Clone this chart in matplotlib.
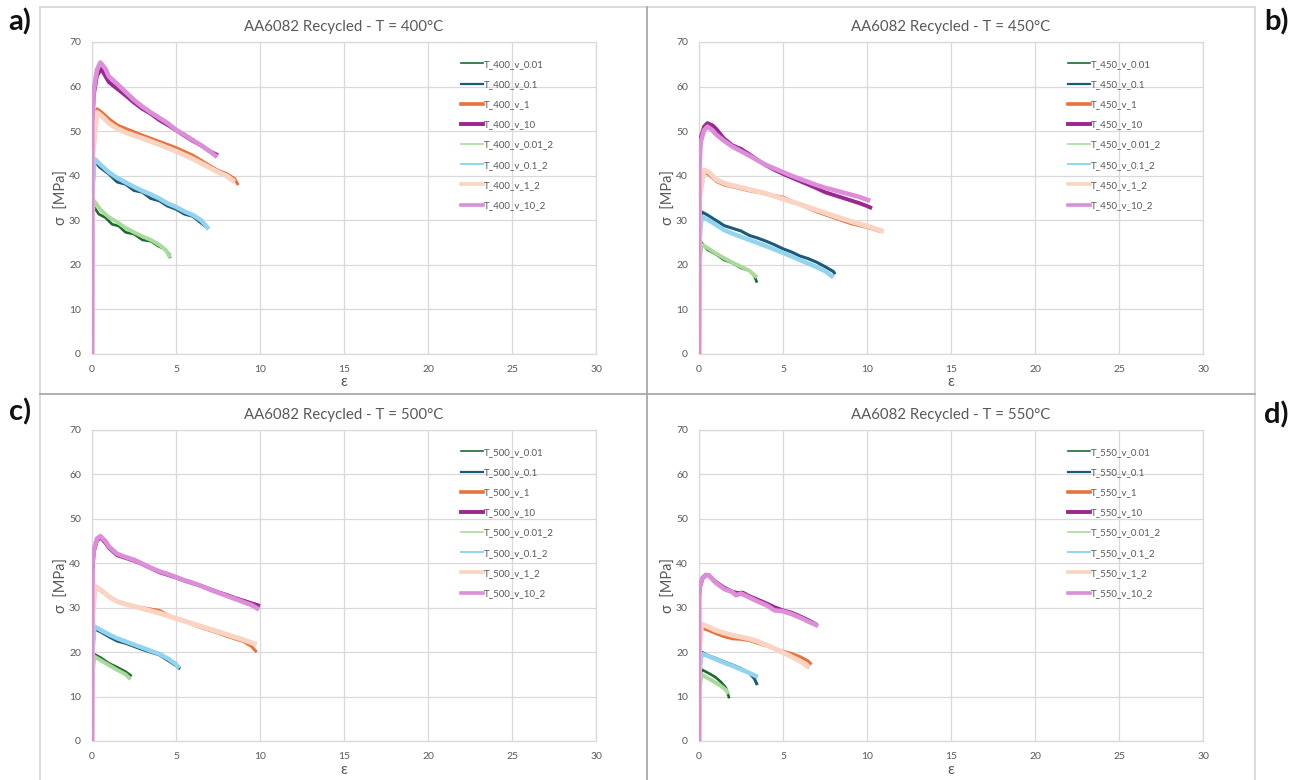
import matplotlib
matplotlib.use("Agg")
import matplotlib.pyplot as plt
from matplotlib.lines import Line2D

plt.rcParams['font.family'] = ['Lato', 'DejaVu Sans']

# ---------------- data (strain, stress) ----------------
temps = [400, 450, 500, 550]
rates = ["0.01", "0.1", "1", "10", "0.01_2", "0.1_2", "1_2", "10_2"]

# T = 400 °C
e400_001 = [0, 0.03, 0.12, 0.4, 0.8, 1.2, 1.6, 2.0, 2.5, 3.0, 3.5, 4.0, 4.3, 4.6, 4.65]
s400_001 = [0, 28, 33.0, 31.4, 30.6, 29.1, 28.7, 27.3, 26.9, 25.6, 25.3, 24.1, 23.6, 22.4, 21.5]
e400_01 = [0, 0.03, 0.15, 0.5, 1.0, 1.5, 2.0, 2.5, 3.0, 3.5, 4.0, 4.5, 5.0, 5.5, 6.0, 6.5, 6.8]
s400_01 = [0, 35, 43.2, 41.8, 40.4, 38.6, 38.1, 36.7, 36.3, 34.9, 34.4, 33.2, 32.5, 31.4, 30.9, 29.4, 28.5]
e400_1 = [0, 0.03, 0.3, 0.6, 1.0, 1.5, 2.0, 3.0, 4.0, 5.0, 6.0, 7.0, 7.5, 8.0, 8.5, 8.7]
s400_1 = [0, 45, 55.0, 54.2, 52.8, 51.4, 50.6, 49.1, 47.7, 46.3, 44.6, 42.3, 41.2, 40.5, 39.3, 37.9]
e400_10 = [0, 0.02, 0.1, 0.3, 0.55, 0.8, 1.0, 1.5, 2.0, 2.5, 3.0, 3.5, 4.0, 4.5, 5.0, 5.5, 6.0, 6.5, 7.0, 7.5]
s400_10 = [0, 50, 58, 62.5, 64.0, 62.3, 61.0, 59.5, 58.0, 56.4, 55.0, 53.9, 52.5, 51.4, 50.2, 49.0, 47.8, 46.8, 45.5, 44.6]
e400_001b = [0, 0.03, 0.1, 0.5, 1.0, 1.5, 2.0, 2.5, 3.0, 3.5, 4.0, 4.4, 4.65]
s400_001b = [0, 29, 34.5, 32.4, 30.7, 29.6, 28.3, 27.3, 26.4, 25.6, 24.5, 23.3, 21.6]
e400_01b = [0, 0.03, 0.15, 0.5, 1.0, 1.5, 2.0, 2.5, 3.0, 3.5, 4.0, 4.5, 5.0, 5.5, 6.0, 6.5, 6.95]
s400_01b = [0, 36, 43.8, 42.5, 40.8, 39.5, 38.5, 37.5, 36.6, 35.8, 34.9, 33.8, 33.0, 32.0, 31.2, 30.0, 28.0]
e400_1b = [0, 0.03, 0.3, 0.6, 1.0, 1.5, 2.0, 3.0, 4.0, 5.0, 6.0, 7.0, 7.5, 8.0, 8.5]
s400_1b = [0, 44, 54.2, 53.3, 51.8, 50.6, 49.7, 48.4, 47.0, 45.5, 43.8, 41.8, 40.8, 40.0, 38.6]
e400_10b = [0, 0.02, 0.1, 0.3, 0.5, 0.8, 1.0, 1.5, 2.0, 2.5, 3.0, 3.5, 4.0, 4.5, 5.0, 5.5, 6.0, 6.5, 7.0, 7.45]
s400_10b = [0, 52, 59, 63.8, 65.4, 64.0, 62.3, 60.6, 58.8, 57.0, 55.5, 54.2, 53.0, 51.8, 50.3, 49.2, 48.0, 46.8, 45.5, 44.2]

# T = 450 °C
e450_001 = [0, 0.03, 0.15, 0.5, 1.0, 1.5, 2.0, 2.5, 3.0, 3.3, 3.45]
s450_001 = [0, 20, 25.0, 23.4, 22.4, 21.1, 20.4, 19.3, 18.7, 17.5, 16.0]
e450_01 = [0, 0.03, 0.15, 0.5, 1.0, 1.5, 2.0, 2.5, 3.0, 3.5, 4.0, 4.5, 5.0, 5.5, 6.0, 6.5, 7.0, 7.5, 8.0, 8.1]
s450_01 = [0, 26, 31.9, 31.2, 30.0, 28.8, 28.2, 27.6, 26.6, 26.0, 25.3, 24.5, 23.6, 22.9, 22.0, 21.4, 20.6, 19.6, 18.5, 17.9]
e450_1 = [0, 0.03, 0.3, 0.6, 1.0, 1.5, 2.0, 3.0, 4.0, 5.0, 6.0, 7.0, 8.0, 9.0, 10.0, 10.8]
s450_1 = [0, 35, 40.9, 40.2, 38.8, 37.9, 37.5, 36.6, 35.9, 35.2, 33.5, 31.9, 30.6, 29.3, 28.4, 27.5]
e450_10 = [0, 0.02, 0.1, 0.3, 0.5, 0.8, 1.0, 1.5, 2.0, 2.5, 3.0, 3.5, 4.0, 4.5, 5.0, 5.5, 6.0, 6.5, 7.0, 7.5, 8.0, 8.5, 9.0, 9.5, 10.0, 10.3]
s450_10 = [0, 44, 48.5, 51.0, 51.8, 51.3, 50.6, 48.3, 46.8, 46.0, 44.8, 43.5, 42.3, 41.3, 40.4, 39.6, 38.8, 38.0, 37.2, 36.3, 35.7, 35.1, 34.5, 33.9, 33.2, 32.7]
e450_001b = [0, 0.03, 0.15, 0.5, 1.0, 1.5, 2.0, 2.5, 3.0, 3.45]
s450_001b = [0, 20, 24.6, 23.8, 22.6, 21.5, 20.5, 19.6, 18.7, 17.2]
e450_01b = [0, 0.03, 0.15, 0.5, 1.0, 1.5, 2.0, 3.0, 4.0, 5.0, 6.0, 7.0, 7.5, 8.0]
s450_01b = [0, 25, 30.8, 30.2, 29.0, 27.8, 27.0, 25.6, 24.2, 22.7, 21.1, 19.5, 18.6, 17.2]
e450_1b = [0, 0.03, 0.3, 0.6, 1.0, 1.5, 2.0, 3.0, 4.0, 5.0, 6.0, 7.0, 8.0, 9.0, 10.0, 11.0]
s450_1b = [0, 35, 41.3, 40.8, 39.2, 38.3, 37.8, 36.9, 36.0, 34.8, 33.6, 32.3, 31.0, 29.8, 28.7, 27.5]
e450_10b = [0, 0.02, 0.1, 0.3, 0.5, 0.8, 1.0, 1.5, 2.0, 2.5, 3.0, 3.5, 4.0, 4.5, 5.0, 5.5, 6.0, 6.5, 7.0, 7.5, 8.0, 8.5, 9.0, 9.5, 10.0, 10.2]
s450_10b = [0, 42, 47.5, 50.2, 51.0, 50.2, 49.3, 47.8, 46.5, 45.5, 44.5, 43.4, 42.4, 41.6, 40.8, 40.0, 39.3, 38.6, 37.9, 37.3, 36.8, 36.3, 35.8, 35.3, 34.6, 34.4]

# T = 500 °C
e500_001 = [0, 0.03, 0.15, 0.5, 1.0, 1.5, 2.0, 2.36]
s500_001 = [0, 15, 19.5, 18.8, 17.5, 16.6, 15.6, 14.6]
e500_01 = [0, 0.03, 0.15, 0.5, 1.0, 1.5, 2.0, 2.5, 3.0, 3.5, 4.0, 4.5, 5.0, 5.24]
s500_01 = [0, 20, 25.2, 24.6, 23.5, 22.5, 22.0, 21.3, 20.6, 20.0, 19.4, 18.2, 17.0, 16.2]
e500_1 = [0, 0.03, 0.2, 0.6, 1.0, 1.5, 2.0, 2.5, 3.0, 3.5, 4.0, 4.5, 5.0, 5.5, 6.0, 6.5, 7.0, 7.5, 8.0, 8.5, 9.0, 9.5, 9.8]
s500_1 = [0, 28, 34.5, 33.6, 32.6, 31.4, 30.7, 30.2, 30.0, 29.7, 29.4, 28.4, 27.5, 27.0, 26.2, 25.5, 24.9, 24.3, 23.6, 23.0, 22.4, 21.3, 20.0]
e500_10 = [0, 0.02, 0.1, 0.3, 0.5, 0.8, 1.0, 1.5, 2.0, 2.5, 3.0, 3.5, 4.0, 4.5, 5.0, 5.5, 6.0, 6.5, 7.0, 7.5, 8.0, 8.5, 9.0, 9.5, 10.0]
s500_10 = [0, 38, 42.5, 45.2, 45.8, 44.6, 43.5, 41.8, 41.2, 40.6, 39.8, 38.9, 38.0, 37.4, 36.8, 36.1, 35.5, 34.9, 34.2, 33.5, 32.9, 32.2, 31.6, 31.0, 30.4]
e500_001b = [0, 0.03, 0.15, 0.5, 1.0, 1.5, 2.0, 2.3]
s500_001b = [0, 15, 19.0, 18.2, 17.1, 16.0, 15.0, 13.9]
e500_01b = [0, 0.03, 0.15, 0.5, 1.0, 1.5, 2.0, 2.5, 3.0, 3.5, 4.0, 4.5, 5.0, 5.2]
s500_01b = [0, 20, 25.8, 25.0, 24.0, 23.1, 22.4, 21.7, 21.0, 20.3, 19.6, 18.6, 17.3, 16.4]
e500_1b = [0, 0.03, 0.2, 0.6, 1.0, 1.5, 2.0, 3.0, 4.0, 5.0, 6.0, 7.0, 8.0, 9.0, 9.8]
s500_1b = [0, 28, 34.8, 33.8, 32.5, 31.4, 30.8, 29.8, 28.8, 27.6, 26.4, 25.2, 24.0, 22.8, 21.7]
e500_10b = [0, 0.02, 0.1, 0.3, 0.5, 0.8, 1.0, 1.5, 2.0, 2.5, 3.0, 3.5, 4.0, 4.5, 5.0, 5.5, 6.0, 6.5, 7.0, 7.5, 8.0, 8.5, 9.0, 9.5, 9.95]
s500_10b = [0, 39, 43.0, 45.6, 46.1, 45.0, 43.8, 42.1, 41.4, 40.8, 39.9, 39.0, 38.2, 37.6, 36.9, 36.2, 35.6, 34.9, 34.1, 33.4, 32.7, 32.0, 31.3, 30.6, 29.6]

# T = 550 °C
e550_001 = [0, 0.02, 0.15, 0.4, 0.7, 1.0, 1.3, 1.6, 1.8]
s550_001 = [0, 12, 16.1, 15.6, 15.0, 14.3, 13.3, 12.0, 9.6]
e550_01 = [0, 0.02, 0.15, 0.5, 1.0, 1.5, 2.0, 2.5, 3.0, 3.3, 3.47]
s550_01 = [0, 15, 20.0, 19.3, 18.6, 17.8, 17.1, 16.3, 15.3, 14.0, 12.6]
e550_1 = [0, 0.02, 0.15, 0.5, 1.0, 1.5, 2.0, 2.5, 3.0, 3.5, 4.0, 4.5, 5.0, 5.5, 6.0, 6.5, 6.7]
s550_1 = [0, 20, 25.4, 25.0, 24.2, 23.5, 23.0, 22.9, 22.6, 22.0, 21.4, 20.8, 20.2, 19.7, 19.0, 18.0, 17.2]
e550_10 = [0, 0.01, 0.05, 0.2, 0.4, 0.6, 0.8, 1.0, 1.5, 2.0, 2.3, 2.6, 3.0, 3.5, 4.0, 4.5, 5.0, 5.5, 6.0, 6.5, 7.0]
s550_10 = [0, 32.5, 34.5, 36.5, 37.3, 37.3, 36.5, 35.8, 34.5, 33.6, 33.3, 33.4, 32.6, 31.8, 31.0, 30.1, 29.4, 28.9, 28.1, 27.2, 26.2]
e550_001b = [0, 0.02, 0.15, 0.4, 0.7, 1.0, 1.3, 1.6, 1.75]
s550_001b = [0, 11, 15.0, 14.4, 13.8, 13.1, 12.4, 11.5, 10.6]
e550_01b = [0, 0.02, 0.15, 0.5, 1.0, 1.5, 2.0, 2.5, 3.0, 3.5]
s550_01b = [0, 15, 19.6, 19.2, 18.4, 17.6, 16.9, 16.1, 15.3, 14.4]
e550_1b = [0, 0.02, 0.15, 0.5, 1.0, 1.5, 2.0, 2.5, 3.0, 3.5, 4.0, 4.5, 5.0, 5.5, 6.0, 6.6]
s550_1b = [0, 20, 26.3, 25.8, 24.9, 24.3, 23.8, 23.4, 23.0, 22.4, 21.6, 20.8, 19.9, 19.0, 18.0, 16.5]
e550_10b = [0, 0.01, 0.05, 0.2, 0.4, 0.6, 0.8, 1.0, 1.5, 2.0, 2.2, 2.5, 3.0, 3.5, 4.0, 4.5, 5.0, 5.5, 6.0, 6.5, 7.1]
s550_10b = [0, 33.0, 34.8, 36.7, 37.4, 37.2, 36.4, 35.6, 34.2, 33.5, 32.8, 33.2, 32.3, 31.4, 30.6, 29.4, 29.2, 28.6, 27.8, 26.9, 25.9]

curves = {
    400: [(e400_001, s400_001), (e400_01, s400_01), (e400_1, s400_1), (e400_10, s400_10),
          (e400_001b, s400_001b), (e400_01b, s400_01b), (e400_1b, s400_1b), (e400_10b, s400_10b)],
    450: [(e450_001, s450_001), (e450_01, s450_01), (e450_1, s450_1), (e450_10, s450_10),
          (e450_001b, s450_001b), (e450_01b, s450_01b), (e450_1b, s450_1b), (e450_10b, s450_10b)],
    500: [(e500_001, s500_001), (e500_01, s500_01), (e500_1, s500_1), (e500_10, s500_10),
          (e500_001b, s500_001b), (e500_01b, s500_01b), (e500_1b, s500_1b), (e500_10b, s500_10b)],
    550: [(e550_001, s550_001), (e550_01, s550_01), (e550_1, s550_1), (e550_10, s550_10),
          (e550_001b, s550_001b), (e550_01b, s550_01b), (e550_1b, s550_1b), (e550_10b, s550_10b)],
}

x_ticks = [0, 5, 10, 15, 20, 25, 30]
y_ticks = [0, 10, 20, 30, 40, 50, 60, 70]

# ---------------- styles ----------------
colors = ["#1b6b2f", "#1d5a78", "#e8733a", "#9b2790",
          "#a8db9a", "#92d4ef", "#f9d4c2", "#dc8fd8"]
widths = [1.9, 2.2, 2.2, 2.8, 2.8, 3.2, 3.6, 3.3]
leg_widths = [1.2, 1.6, 2.6, 2.8, 1.2, 1.4, 2.6, 2.6]

W, H = 1300, 780
fig = plt.figure(figsize=(13, 7.8), dpi=100)

def fx(px):
    return px / W

def fy(py):
    return 1 - py / H

# panel frames
frame_c = "#d6d6d6"
sep_c = "#a9a9a9"
fig.add_artist(Line2D([fx(40), fx(40)], [fy(7), fy(780)], color=frame_c, lw=1.2))
fig.add_artist(Line2D([fx(40), fx(1255)], [fy(7), fy(7)], color=frame_c, lw=1.2))
fig.add_artist(Line2D([fx(1255), fx(1255)], [fy(7), fy(780)], color=frame_c, lw=1.2))
fig.add_artist(Line2D([fx(647), fx(647)], [fy(7), fy(780)], color=sep_c, lw=1.3))
fig.add_artist(Line2D([fx(40), fx(1255)], [fy(394), fy(394)], color=sep_c, lw=1.3))

axes_px = {400: (92, 42, 596, 354), 450: (699, 42, 1203, 354),
           500: (92, 430, 596, 741), 550: (699, 430, 1203, 741)}

grid_c = "#d9d9d9"
text_c = "#595959"

for T in temps:
    x0, y0, x1, y1 = axes_px[T]
    ax = fig.add_axes([fx(x0), fy(y1), (x1 - x0) / W, (y1 - y0) / H])
    ax.set_xlim(0, 30)
    ax.set_ylim(0, 70)
    ax.set_xticks(x_ticks)
    ax.set_yticks(y_ticks)
    ax.grid(True, color=grid_c, lw=0.9)
    ax.set_axisbelow(True)
    for sp in ax.spines.values():
        sp.set_color(grid_c)
        sp.set_linewidth(0.9)
    ax.tick_params(length=0, labelsize=7.5, labelcolor=text_c, pad=8)
    handles = []
    for i, (e, s) in enumerate(curves[T]):
        ax.plot(e, s, color=colors[i], lw=widths[i], solid_capstyle='butt', zorder=3 + i)
        handles.append(Line2D([], [], color=colors[i], lw=leg_widths[i],
                              label=f"T_{T}_v_{rates[i]}"))
    ax.legend(handles=handles, loc='upper left', bbox_to_anchor=(0.733, 0.943),
              frameon=False, fontsize=7, labelcolor=text_c, handlelength=2.2,
              handletextpad=0.15, labelspacing=1.15, borderpad=0, borderaxespad=0)
    ax.set_title(f"AA6082 Recycled - T = {T}°C", fontsize=10.8, color=text_c, pad=8)
    ax.set_xlabel("ε", fontsize=11, color=text_c, labelpad=1)
    ax.set_ylabel("σ  [MPa]", fontsize=10.5, color=text_c, labelpad=0)

# panel letters
for lab, px, py in [("a)", 20, 22), ("b)", 1276, 22), ("c)", 20, 412), ("d)", 1276, 415)]:
    fig.text(fx(px), fy(py), lab, fontsize=21, fontweight='bold', ha='center', va='center',
             color="#111111")

fig.savefig("out.png", dpi=100, facecolor="white")
